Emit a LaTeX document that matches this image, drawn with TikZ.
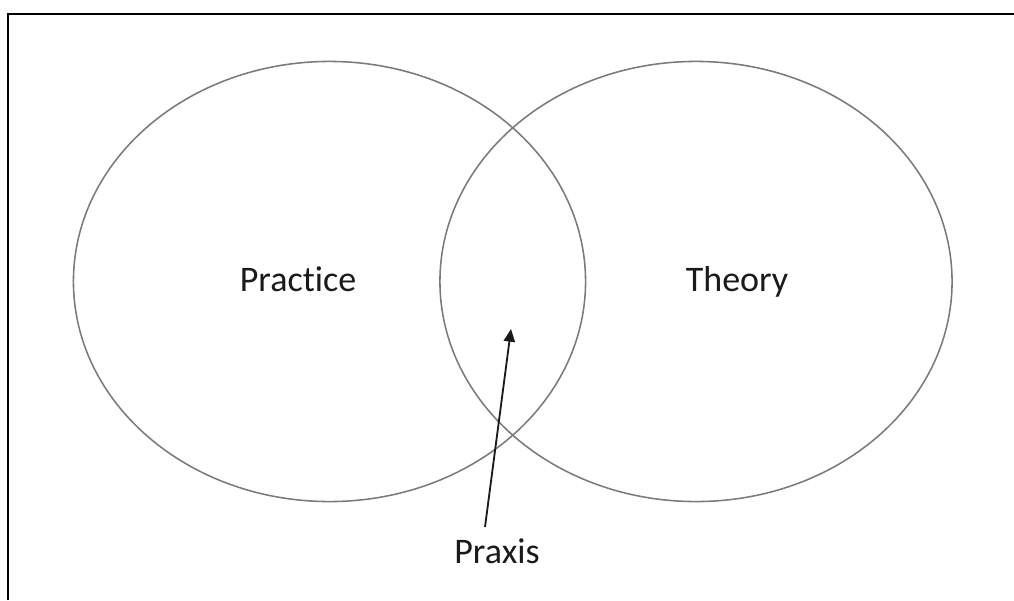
\documentclass[tikz,border=0pt]{standalone}
\usepackage{fontspec}
\setmainfont[Ligatures={NoCommon,NoDiscretionary,NoRare}]{Carlito}
\usetikzlibrary{shapes.geometric, arrows.meta, positioning}
\usepackage{xcolor}
\definecolor{SetGray}{HTML}{7A7A7A}
\definecolor{LabelBlack}{HTML}{1A1A1A}
\definecolor{FrameBlack}{HTML}{000000}
\tikzset{
    % Set styles - plain ellipses
    setshape/.style={
        ellipse,
        draw=SetGray,
        line width=1.1pt,
        minimum width=12.8cm,
        minimum height=11cm,
        inner sep=0pt
    },
    setlabel/.style={
        anchor=base,
        text=LabelBlack,
        font=\fontsize{25.6}{30}\selectfont,
        inner sep=0pt
    },
    % Arrow and frame styles
    arrow/.style={
        -{Triangle[length=9pt,width=8pt]},
        line width=1.3pt,
        draw=LabelBlack
    },
    frameline/.style={
        line width=1.6pt,
        draw=FrameBlack
    }
}
\begin{document}
\begin{tikzpicture}[x=0.025cm, y=-0.025cm]
    \useasboundingbox (0,0) rectangle (1014,600);
    \draw[frameline] (8,600) -- (8,14) -- (1014,14);

    \node[setshape] (practiceset) at (329.5,281.5) {};
    \node[setshape] (theoryset) at (696,281.5) {};

    \node[setlabel] (practice) at (298,291) {Practice};
    \node[setlabel] (theory) at (737,291) {Theory};
    \node[setlabel] (praxis) at (497,563) {Praxis};

    \coordinate (tip) at (511,329);
    \coordinate (tail) at (485,527);
    \draw[arrow] (tail) -- (tip);
\end{tikzpicture}
\end{document}
